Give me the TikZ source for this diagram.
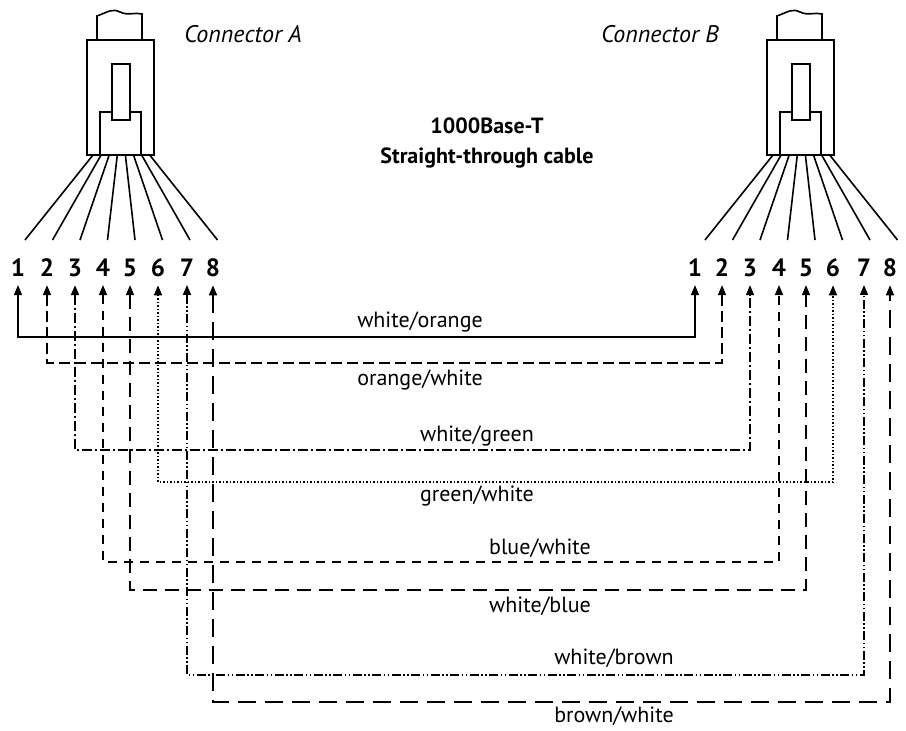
\documentclass[tikz,border=0pt]{standalone}
\usepackage{fontspec}
\setmainfont{PT Sans}
\usetikzlibrary{arrows.meta}
\begin{document}
\begin{tikzpicture}[x=1pt,y=-1pt,
  w/.style={line width=1.6pt},
  pin/.style={font=\bfseries\fontsize{25}{25}\selectfont,inner sep=0pt},
  lab/.style={font=\fontsize{22}{22}\selectfont,inner sep=0pt},
  wire/.style={line width=1.6pt,{Triangle[width=8pt,length=10pt]}-{Triangle[width=8pt,length=10pt]}},
  s2/.style={dash pattern=on 11pt off 5pt},
  s3/.style={dash pattern=on 10pt off 3pt on 2pt off 3pt},
  s6/.style={dash pattern=on 1.5pt off 2pt},
  s4/.style={dash pattern=on 9pt off 7pt},
  s5/.style={dash pattern=on 14pt off 8pt},
  s7/.style={dash pattern=on 9pt off 2.5pt on 1.5pt off 2.5pt on 1.5pt off 2.5pt},
  s8/.style={dash pattern=on 18pt off 9pt}]
\useasboundingbox (0,0) rectangle (906,731);
% connectors
\foreach \o/\n in {0/A,680/B}{
  \begin{scope}[xshift=\o pt]
  \draw[w] (97,40) -- (97,16) .. controls (108,12) and (112,8) .. (120,12) .. controls (128,16) and (135,12) .. (142,14) -- (142,40);
  \draw[w] (87,40) rectangle (154,155);
  \draw[w] (112,64) rectangle (130,120);
  \draw[w] (100,155) -- (100,112) -- (112,112) (130,112) -- (141,112) -- (141,155);
  \foreach \i in {0,...,7}{
    \draw[w] ({93+\i*8.1},155) -- ({25+\i*27.5},240);
  }
  \end{scope}
}
\node[font=\itshape\fontsize{24}{24}\selectfont] (ca) at (243,34) {Connector A};
\node[font=\itshape\fontsize{24}{24}\selectfont] (cb) at (660,34) {Connector B};
\node[font=\bfseries\fontsize{22}{30}\selectfont,align=center] (title) at (487,143) {1000Base-T\\Straight-through cable};
% pins
\foreach \i/\xa/\xb in {1/18/695,2/47/722,3/75/750,4/103/779,5/130/806,6/158/833,7/187/864,8/213/890}{
  \node[pin] (a\i) at (\xa,268) {\i};
  \node[pin] (b\i) at (\xb,268) {\i};
}
\foreach \i in {1,...,8}{
  \coordinate (ta\i) at ([yshift=-8pt]a\i.south);
  \coordinate (tb\i) at ([yshift=-8pt]b\i.south);
}
\coordinate (y1) at (0,337);
\coordinate (y2) at (0,363);
\coordinate (y3) at (0,450);
\coordinate (y6) at (0,482);
\coordinate (y4) at (0,562);
\coordinate (y5) at (0,590);
\coordinate (y7) at (0,675);
\coordinate (y8) at (0,702);
\draw[wire] (ta1) -- (ta1|-y1) -| (tb1);
\foreach \i in {2,...,8}{
  \draw[wire,s\i] (ta\i) -- (ta\i|-y\i) -| (tb\i);
}
\node[lab] (l1) at (420,322) {white/orange};
\node[lab] (l2) at (420,380) {orange/white};
\node[lab] (l3) at (477,436) {white/green};
\node[lab] (l6) at (477,496) {green/white};
\node[lab] (l4) at (540,548) {blue/white};
\node[lab] (l5) at (540,606) {white/blue};
\node[lab] (l7) at (614,658) {white/brown};
\node[lab] (l8) at (614,716) {brown/white};
\end{tikzpicture}
\end{document}
